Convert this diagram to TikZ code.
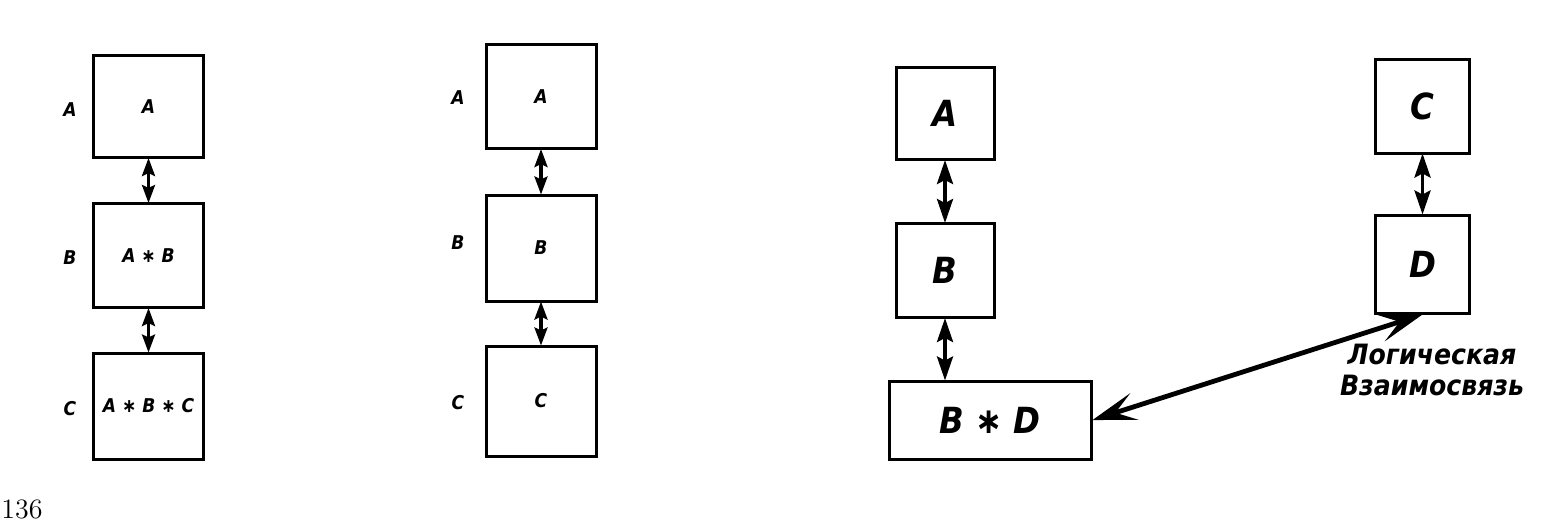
\documentclass[tikz,border=0pt]{standalone}
\usepackage{fontspec}
\newfontfamily\gost{DejaVu Sans Condensed}
\usetikzlibrary{arrows.meta}
\begin{document}
\begin{tikzpicture}[x=0.5pt,y=-0.5pt,
  box/.style={draw,line width=1.5pt,inner sep=0pt},
  small/.style={font=\gost\bfseries\itshape\fontsize{9.5}{11}\selectfont},
  big/.style={font=\gost\bfseries\itshape\fontsize{18}{20}\selectfont},
  link/.style={line width=1.6pt,{Stealth[length=9pt,width=6.5pt,inset=1.5pt]}-{Stealth[length=9pt,width=6.5pt,inset=1.5pt]},shorten <=-0.5pt,shorten >=-0.5pt},
  biglink/.style={line width=1.8pt,{Stealth[length=12pt,width=8pt,inset=2pt]}-{Stealth[length=12pt,width=8pt,inset=2pt]},shorten <=-0.5pt,shorten >=-0.5pt},
  longlink/.style={line width=2.4pt,{Stealth[length=22pt,width=14pt,inset=10pt]}-{Stealth[length=22pt,width=14pt,inset=10pt]}}
]
\useasboundingbox (0,0) rectangle (1551,531);
% panel 1
\node[box,small,minimum width=55pt,minimum height=51pt] (a1) at (148.5,106.5) {A};
\node[box,small,minimum width=55pt,minimum height=52pt] (b1) at (148.5,255.5) {A ∗ B};
\node[box,small,minimum width=55pt,minimum height=53pt] (c1) at (148.5,406) {A ∗ B ∗ C};
\node[small] (la1) at (70,110) {A};
\node[small] (lb1) at (70,258) {B};
\node[small] (lc1) at (70,409) {C};
\draw[link] (a1.south) -- (b1.north);
\draw[link] (b1.south) -- (c1.north);
% panel 2
\node[box,small,minimum width=55pt,minimum height=52pt] (a2) at (541,96.5) {A};
\node[box,small,minimum width=55pt,minimum height=53pt] (b2) at (541,248) {B};
\node[box,small,minimum width=55pt,minimum height=55pt] (c2) at (541,401) {C};
\node[small] (la2) at (458,98) {A};
\node[small] (lb2) at (458,243) {B};
\node[small] (lc2) at (458,403) {C};
\draw[link] (a2.south) -- (b2.north);
\draw[link] (b2.south) -- (c2.north);
% panel 3
\node[box,big,minimum width=49pt,minimum height=46pt] (a3) at (945,113.5) {A};
\node[box,big,minimum width=49pt,minimum height=47pt] (b3) at (945,270.5) {B};
\node[box,big,minimum width=101pt,minimum height=39pt] (bd) at (990,420) {B ∗ D};
\node[box,big,minimum width=47pt,minimum height=47pt] (c3) at (1422.5,106) {C};
\node[box,big,minimum width=47pt,minimum height=49pt] (d3) at (1422.5,264) {D};
\draw[biglink] (a3.south) -- (b3.north);
\draw[biglink] (b3.south) -- (bd.north -| b3.south);
\draw[biglink] (c3.south) -- (d3.north);
\draw[longlink] (d3.south) -- (bd.east);
\node[font=\gost\bfseries\itshape\fontsize{14}{15.5}\selectfont,align=center,inner sep=0pt] (lbl) at (1432,370) {Логическая\\Взаимосвязь};
% page number
\node[font=\fontsize{14}{16}\selectfont,inner sep=0pt] (pg) at (22,509) {136};
\end{tikzpicture}
\end{document}
